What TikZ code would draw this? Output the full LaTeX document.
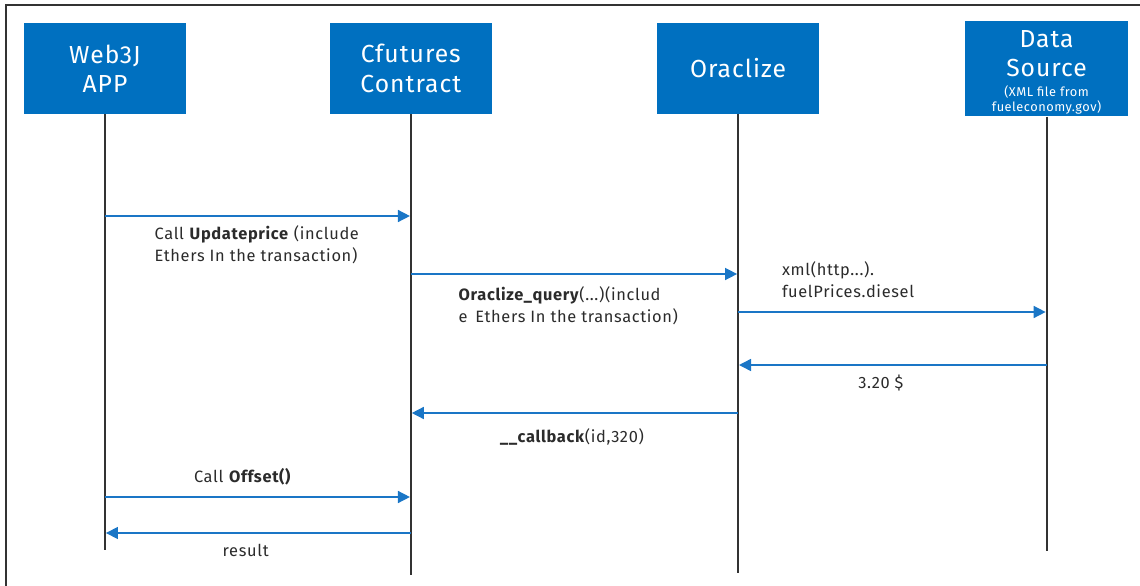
\documentclass[tikz,border=0pt]{standalone}
\usepackage{fontspec}
\setmainfont{Fira Sans}[LetterSpace=4]
\usepackage{xcolor}
\usepackage{tikz}
\usetikzlibrary{arrows.meta, positioning}
\definecolor{boxblue}{HTML}{0070C0}
\definecolor{msgblue}{HTML}{1A76C6}
\definecolor{lifegray}{HTML}{333333}
\definecolor{textgray}{HTML}{2B2B2B}
\newcommand{\srcnote}{\fontsize{9.6}{11.3}\selectfont}
\tikzstyle{actor} = [rectangle, minimum width=122pt, minimum height=68pt, inner sep=0pt, text centered, align=center, fill=boxblue, text=white, font=\fontsize{18.5}{22}\selectfont]
\tikzstyle{life} = [line width=1.6pt, draw=lifegray]
\tikzstyle{msg} = [line width=1.1pt, draw=msgblue, -{Triangle[length=9pt,width=9pt]}, shorten >=0.7pt]
\tikzstyle{lbl} = [font=\fontsize{12.3}{16.5}\selectfont, text=textgray, inner sep=0pt, align=left]

\begin{document}
\begin{tikzpicture}[x=0.75pt, y=-0.75pt]
    \useasboundingbox (0,0) rectangle (1140,586);
    \draw[line width=1.5pt, lifegray] (6,586) -- (6,5) -- (1140,5);

    \node (web) [actor] at (105,68.5) {Web3J\\APP};
    \node (cfut) [actor, right=107pt of web] {Cfutures\\Contract};
    \node (orac) [actor, right=123pt of cfut] {Oraclize};
    \node (data) [actor, right=109pt of orac] {\rule{0pt}{20pt}Data\\Source\\[-7pt]\srcnote\begin{tabular}[t]{@{}c@{}}(XML file from\\fueleconomy.gov)\end{tabular}};

    \draw [life] (web.south) -- ++(0,436);
    \draw [life] (cfut.south) -- ++(0,461);
    \draw [life] (orac.south) -- ++(0,459);
    \draw [life] (data.south) -- ++(0,434);

    \coordinate (r1) at (0,216);
    \coordinate (r2) at (0,274);
    \coordinate (r3) at (0,312);
    \coordinate (r4) at (0,365);
    \coordinate (r5) at (0,413);
    \coordinate (r6) at (0,497);
    \coordinate (r7) at (0,533);

    \draw [msg] (web |- r1) -- node[lbl, pos=0.16, anchor=north west, yshift=-7pt] {Call \textbf{Updateprice} (include\\Ethers In the transaction)} (cfut |- r1);
    \draw [msg] (cfut |- r2) -- node[lbl, pos=0.144, anchor=north west, yshift=-9pt] {\textbf{Oraclize\_query}(...)(includ\\e \,Ethers In the transaction)} (orac |- r2);
    \draw [msg] (orac |- r3) -- node[lbl, pos=0.14, anchor=south west, yshift=10pt] {xml(http...).\\fuelPrices.diesel} (data |- r3);
    \draw [msg] (data |- r4) -- node[lbl, pos=0.537, anchor=north, yshift=-7pt] {3.20 \$} (orac |- r4);
    \draw [msg] (orac |- r5) -- node[lbl, pos=0.508, anchor=north, yshift=-11pt] {\textbf{\_\_callback}(id,320)} (cfut |- r5);
    \draw [msg] (web |- r6) -- node[lbl, pos=0.45, anchor=south, yshift=8pt] {Call \textbf{Offset()}} (cfut |- r6);
    \draw [msg] (cfut |- r7) -- node[lbl, pos=0.54, anchor=north, yshift=-8pt] {result} (web |- r7);
\end{tikzpicture}
\end{document}
